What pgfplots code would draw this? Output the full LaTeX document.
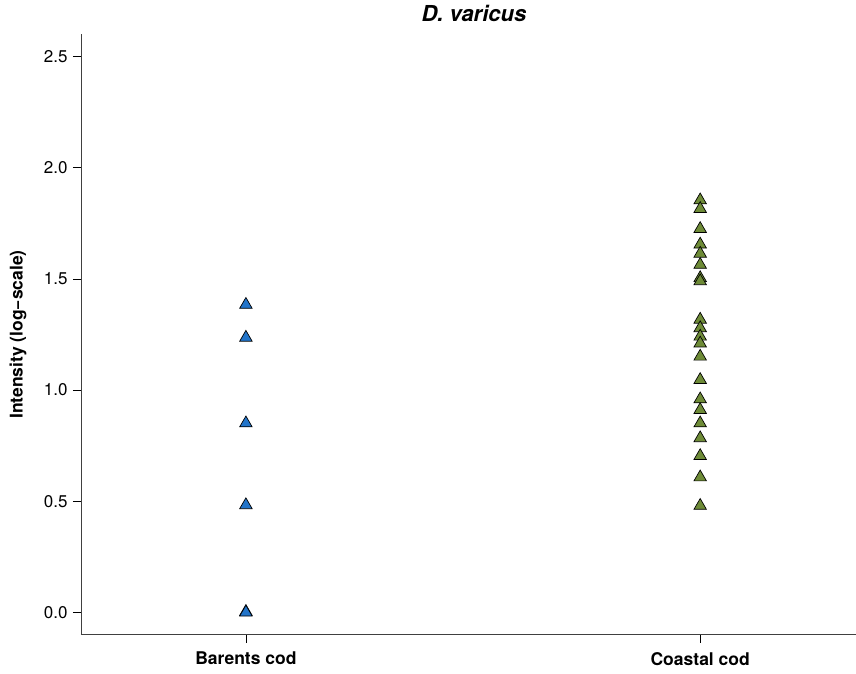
\documentclass[border=0pt]{standalone}
\usepackage{pgfplots}
\pgfplotsset{compat=1.18}
\usepackage{fontspec}
\setmainfont{TeX Gyre Heros}
\definecolor{bcol}{RGB}{34,116,201}
\definecolor{ccol}{RGB}{110,139,55}
\begin{document}
\begin{tikzpicture}
\useasboundingbox (0,0) rectangle (856pt,673pt);
\begin{axis}[
  at={(81pt,38.3pt)}, anchor=south west,
  scale only axis, width=775pt, height=600.4pt,
  xmin=0.637, xmax=2.343, ymin=-0.1, ymax=2.6,
  axis lines=left, axis line style={-, black!75, line width=0.9pt},
  xtick={1,2}, xticklabels={Barents cod, Coastal cod},
  ytick={0,0.5,1,1.5,2,2.5},
  /pgf/number format/fixed, /pgf/number format/fixed zerofill, /pgf/number format/precision=1,
  /pgf/number format/assume math mode=true,
  tick align=outside, major tick length=8pt,
  tick style={black, line width=0.7pt},
  ticklabel style={font=\fontsize{17}{19}\selectfont},
  xticklabel style={font=\fontsize{17.5}{19}\selectfont\bfseries, yshift=-6pt},
  yticklabel style={xshift=-2pt},
  ylabel={\bfseries Intensity (log−scale)},
  ylabel style={font=\fontsize{17.5}{19}\selectfont, at={(axis description cs:-0.0813,0.5)}, anchor=center},
  title={\bfseries\itshape D. varicus},
  title style={font=\fontsize{22}{24}\selectfont, at={(axis description cs:0.507,1)}, anchor=center, yshift=15pt},
  clip=false,
  every mark/.append style={yshift=-1.8pt},
]
\addplot[only marks, mark=triangle*, mark size=7.2pt, mark options={fill=bcol, draw=black, line width=0.7pt}]
coordinates {(1,1.384) (1,1.236) (1,0.851) (1,0.483) (1,0.003) (1,0.0)};
\addplot[only marks, mark=triangle*, mark size=7.2pt, mark options={fill=ccol, draw=black, line width=0.7pt}]
coordinates {
(2,1.854) (2,1.815) (2,1.725) (2,1.655) (2,1.614) (2,1.564) (2,1.504) (2,1.49)
(2,1.317) (2,1.279) (2,1.241) (2,1.21) (2,1.151) (2,1.046) (2,0.959) (2,0.911)
(2,0.851) (2,0.784) (2,0.704) (2,0.608) (2,0.48)};
\end{axis}
\end{tikzpicture}
\end{document}
